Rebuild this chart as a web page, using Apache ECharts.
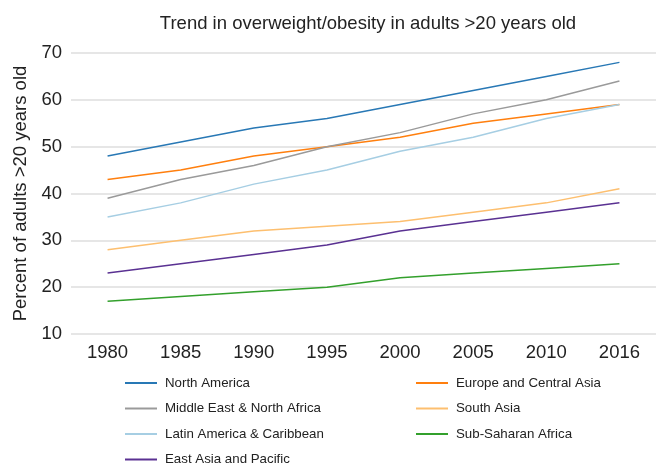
<!DOCTYPE html>
<html>
<head>
<meta charset="utf-8">
<script src="https://cdn.jsdelivr.net/npm/echarts@6/dist/echarts.min.js"></script>
<style>html,body{margin:0;padding:0;background:#fff}#chart{width:656px;height:464px}</style>
</head>
<body>
<div id="chart"></div>
<script>
const years = ['1980','1985','1990','1995','2000','2005','2010','2016'];
const yTicks = [10, 20, 30, 40, 50, 60, 70];
const northAmerica = [48, 51, 54, 56, 59, 62, 65, 68];
const europeCentralAsia = [43, 45, 48, 50, 52, 55, 57, 59];
const middleEastNorthAfrica = [39, 43, 46, 50, 53, 57, 60, 64];
const southAsia = [28, 30, 32, 33, 34, 36, 38, 41];
const latinAmerica = [35, 38, 42, 45, 49, 52, 56, 59];
const subSaharanAfrica = [17, 18, 19, 20, 22, 23, 24, 25];
const eastAsiaPacific = [23, 25, 27, 29, 32, 34, 36, 38];

const seriesDefs = [
  {name: 'North America', data: northAmerica, color: '#2878b5'},
  {name: 'Europe and Central Asia', data: europeCentralAsia, color: '#ff7f0e'},
  {name: 'Middle East & North Africa', data: middleEastNorthAfrica, color: '#9a9a9a'},
  {name: 'South Asia', data: southAsia, color: '#fdbf6f'},
  {name: 'Latin America & Caribbean', data: latinAmerica, color: '#a6cee3'},
  {name: 'Sub-Saharan Africa', data: subSaharanAfrica, color: '#33a02c'},
  {name: 'East Asia and Pacific', data: eastAsiaPacific, color: '#5a3192'}
];

// legend placement: [left, rowCenterY]
const legendSlots = [
  [125, 383], [416, 383],
  [125, 408.5], [416, 408.5],
  [125, 434], [416, 434],
  [125, 459.5]
];

const font = 'Liberation Sans, Arial, sans-serif';
const chart = echarts.init(document.getElementById('chart'), null, {renderer: 'canvas'});
chart.setOption({
  animation: false,
  title: {
    text: 'Trend in overweight/obesity in adults >20 years old',
    left: 363, top: 9, textAlign: 'center',
    textStyle: {fontFamily: font, fontSize: 18.5, fontWeight: 'normal', color: '#222'}
  },
  grid: {left: 71, right: 0, top: 53, bottom: 130, containLabel: false},
  legend: seriesDefs.map((s, i) => ({
    data: [s.name],
    left: legendSlots[i][0],
    top: legendSlots[i][1] - 8,
    icon: 'rect',
    itemWidth: 32,
    itemHeight: 2,
    padding: 0,
    textStyle: {fontFamily: font, fontSize: 13.3, color: '#222', lineHeight: 16, padding: [0, 0, 0, 3]}
  })),
  xAxis: {
    type: 'category',
    data: years,
    boundaryGap: true,
    axisLine: {show: false},
    axisTick: {show: false},
    axisLabel: {fontFamily: font, fontSize: 18.5, color: '#222', margin: 9}
  },
  yAxis: {
    type: 'value',
    min: yTicks[0], max: yTicks[yTicks.length - 1], interval: 10,
    name: 'Percent of adults >20 years old',
    nameLocation: 'middle',
    nameGap: 40,
    nameTextStyle: {fontFamily: font, fontSize: 18.5, color: '#222'},
    axisLine: {show: false},
    axisTick: {show: false},
    axisLabel: {fontFamily: font, fontSize: 18.5, color: '#222', margin: 9},
    splitLine: {lineStyle: {color: '#e6e6e6', width: 2}}
  },
  series: seriesDefs.map(s => ({
    name: s.name,
    type: 'line',
    data: s.data,
    symbol: 'none',
    color: s.color,
    lineStyle: {color: s.color, width: 1.5},
    itemStyle: {color: s.color}
  }))
});
</script>
</body>
</html>
